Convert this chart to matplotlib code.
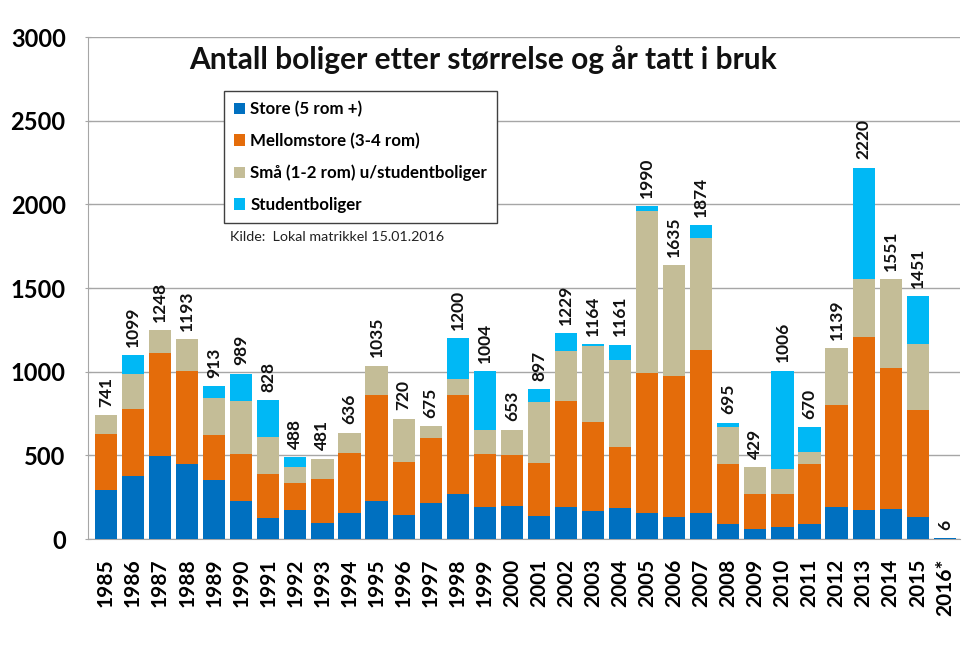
import matplotlib
matplotlib.use("Agg")
import matplotlib.pyplot as plt
import numpy as np
from matplotlib.patches import Patch

plt.rcParams['font.family'] = ['Lato', 'DejaVu Sans']

years = ['1985', '1986', '1987', '1988', '1989', '1990', '1991', '1992', '1993', '1994',
         '1995', '1996', '1997', '1998', '1999', '2000', '2001', '2002', '2003', '2004',
         '2005', '2006', '2007', '2008', '2009', '2010', '2011', '2012', '2013', '2014',
         '2015', '2016*']
store = [290, 378, 494, 446, 354, 228, 124, 174, 96, 154,
         228, 144, 216, 272, 190, 198, 136, 194, 168, 186,
         156, 132, 156, 90, 58, 70, 90, 194, 172, 182,
         132, 6]
mellom = [340, 398, 618, 558, 266, 280, 266, 162, 264, 362,
          630, 314, 386, 590, 318, 306, 320, 630, 530, 366,
          834, 842, 972, 358, 212, 200, 360, 606, 1036, 842,
          642, 0]
smaa = [111, 213, 136, 189, 220, 316, 218, 92, 121, 120,
        177, 262, 73, 94, 146, 149, 360, 298, 458, 520,
        968, 661, 672, 220, 159, 146, 68, 339, 343, 527,
        392, 0]
student = [0, 110, 0, 0, 73, 165, 220, 60, 0, 0,
           0, 0, 0, 244, 350, 0, 81, 107, 8, 89,
           32, 0, 74, 27, 0, 590, 152, 0, 669, 0,
           285, 0]
totals = [741, 1099, 1248, 1193, 913, 989, 828, 488, 481, 636,
          1035, 720, 675, 1200, 1004, 653, 897, 1229, 1164, 1161,
          1990, 1635, 1874, 695, 429, 1006, 670, 1139, 2220, 1551,
          1451, 6]

labels = ['Store (5 rom +)', 'Mellomstore (3-4 rom)', 'Små (1-2 rom) u/studentboliger', 'Studentboliger']
colors = ['#0070C0', '#E46C0A', '#C4BD97', '#00B8F5']

fig = plt.figure(figsize=(9.74, 6.46), dpi=100)
ax = fig.add_axes([0.0903, 0.1656, 0.8953, 0.7771])

x = np.arange(len(years))
w = 0.82
bottom = np.zeros(len(years))
for vals, col, lab in zip([store, mellom, smaa, student], colors, labels):
    v = np.array(vals, dtype=float)
    ax.bar(x, v, w, bottom=bottom, color=col, label=lab, zorder=3)
    bottom += v

for xi, t, b in zip(x, totals, bottom):
    ax.annotate(str(t), (xi, b), xytext=(0, 6), textcoords='offset points',
                rotation=90, ha='center', va='bottom', fontsize=12.5, fontweight='bold',
                color='#111111', zorder=4)

ax.set_xlim(-0.665, 31.56)
ax.set_ylim(0, 3000)
ax.set_yticks(np.arange(0, 3001, 500))
ax.yaxis.grid(True, color='#A6A6A6', linewidth=1.0, zorder=0)
ax.set_axisbelow(True)
ax.set_xticks(x)
ax.set_xticklabels(years, rotation=90, fontsize=15, fontweight='bold')
ax.tick_params(axis='x', length=0, pad=14)
ax.tick_params(axis='y', length=4, direction='inout', color='#A6A6A6', pad=14, labelsize=17)
for lbl in ax.get_yticklabels():
    lbl.set_fontweight('bold')
for s in ['top', 'right']:
    ax.spines[s].set_visible(False)
ax.spines['left'].set_color('#A6A6A6')
ax.spines['bottom'].set_color('#A6A6A6')

fig.text(0.496, 0.907, 'Antall boliger etter størrelse og år tatt i bruk',
         ha='center', va='center', fontsize=21.5, fontweight='bold', color='#111111')

handles = [Patch(facecolor=c, edgecolor='none') for c in colors]
leg = ax.legend(handles, labels, loc='upper left', bbox_to_anchor=(0.156, 0.893),
                frameon=True, fancybox=False, edgecolor='#404040', framealpha=1,
                prop={'size': 12.2, 'weight': 'bold'}, handlelength=0.65, handleheight=0.65,
                handletextpad=0.3, labelspacing=0.92, borderpad=0.6, borderaxespad=0)
leg.get_frame().set_linewidth(1.0)
leg.set_zorder(5)

fig.text(0.236, 0.633, 'Kilde:  Lokal matrikkel 15.01.2016', ha='left', va='center',
         fontsize=10.3, color='#222222')

fig.savefig('out.png', dpi=100, facecolor='white')
